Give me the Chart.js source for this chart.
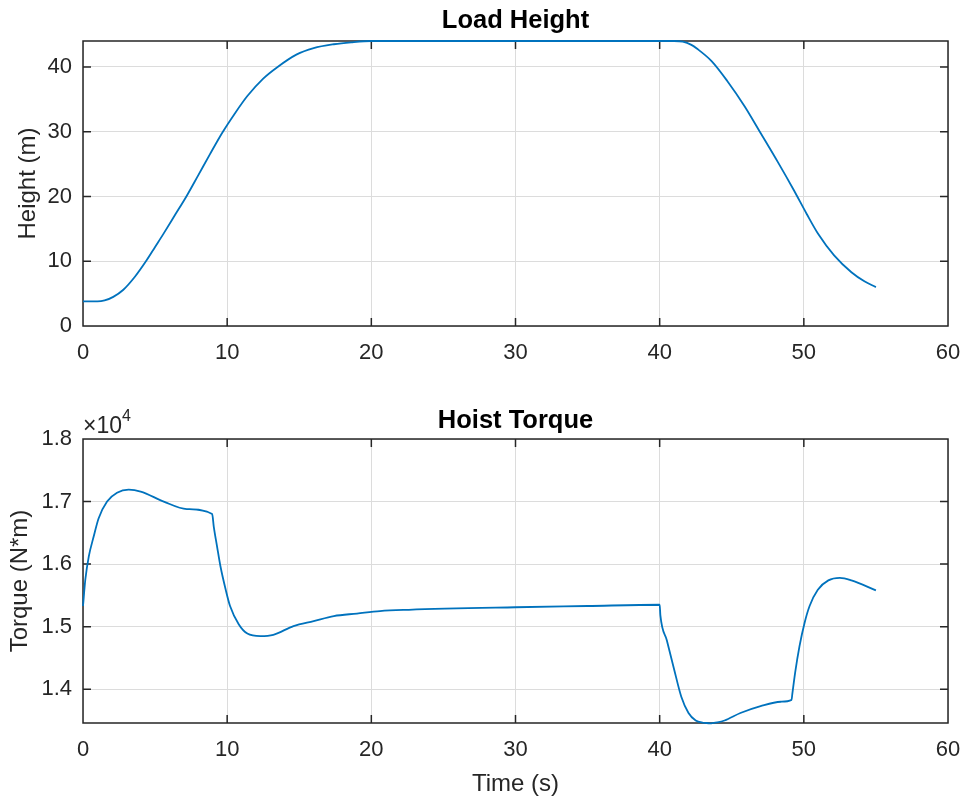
<!DOCTYPE html>
<html>
<head>
<meta charset="utf-8">
<script src="https://cdn.jsdelivr.net/npm/chart.js@4.4.1/dist/chart.umd.min.js"></script>
<style>
  html, body { margin: 0; padding: 0; background: #fff; }
  canvas { display: block; }
</style>
</head>
<body>
<canvas id="heightChart" width="968" height="402"></canvas>
<canvas id="torqueChart" width="968" height="402"></canvas>
<script>
// load height (m) against time (s)
const heightTime = [0, 1, 1.5, 2.1, 2.8, 3.6, 4.4, 5, 5.6, 6.4, 7.17, 8, 8.8, 9.65, 10.5, 11.4, 12.5, 13.5, 14.8, 16, 17.4,
  18.6, 20, 25, 30, 35, 40, 41, 41.6, 42.2, 42.6, 43.6, 44.7, 45.9, 47, 48.2, 49.3, 50.2, 51, 52.1, 53.3, 54.2, 55];
const heightVal = [3.8, 3.8, 3.95, 4.5, 5.6, 7.6, 10.1, 12.2, 14.3, 17.2, 20.0, 23.3, 26.5, 29.8, 32.7, 35.5, 38.2, 40.0, 41.9,
  42.9, 43.5, 43.8, 44, 44, 44, 44, 44, 44, 43.9, 43.4, 42.8, 40.9, 37.8, 33.9, 29.8, 25.3, 21.0, 17.3, 14.2, 10.9, 8.3, 6.9, 6.0];

// hoist torque (N*m) against time (s)
const torqueTime = [0, 0.16, 0.4, 0.74, 1.08, 1.67, 2.36, 3.17, 4.0, 5.6, 7.2, 8.96, 9.07, 9.3, 9.53, 9.9, 10.2, 10.8, 11.4,
  12.3, 13.2, 14.6, 16, 17.4, 19, 20.6, 22.6, 30, 35, 40, 40.05, 40.5, 41.0, 41.5, 42.0, 42.5, 43.0, 43.5, 44.0, 44.5, 45.6,
  47, 48.4, 49.15, 49.2, 49.4, 49.7, 50.05, 50.4, 50.97, 51.7, 52.5, 53.3, 55];
const torqueVal = [15330, 15750, 16120, 16440, 16730, 17000, 17140, 17190, 17160, 17000, 16880, 16800, 16600, 16280, 15970,
  15590, 15330, 15040, 14890, 14850, 14870, 15010, 15090, 15170, 15210, 15250, 15270, 15310, 15330, 15350, 15180, 14780,
  14320, 13880, 13620, 13500, 13465, 13455, 13470, 13500, 13620, 13730, 13800, 13830, 13920, 14270, 14690, 15060, 15330,
  15590, 15740, 15780, 15740, 15580];

const xTicks = [0, 10, 20, 30, 40, 50, 60];

const FONT = "'Liberation Sans', Arial, Helvetica, sans-serif";
const TXT = '#262626';
const BLUE = '#0072BD';

// MATLAB style box with inward ticks on all four sides
const boxTicks = {
  id: 'boxTicks',
  beforeDatasetsDraw(chart) {
    const { ctx, chartArea: a, scales: { x, y } } = chart;
    const len = 8;
    ctx.save();
    ctx.strokeStyle = TXT;
    ctx.lineWidth = 1.5;
    ctx.beginPath();
    x.ticks.forEach(t => {
      const px = x.getPixelForValue(t.value);
      ctx.moveTo(px, a.bottom); ctx.lineTo(px, a.bottom - len);
      ctx.moveTo(px, a.top); ctx.lineTo(px, a.top + len);
    });
    y.ticks.forEach(t => {
      const py = y.getPixelForValue(t.value);
      ctx.moveTo(a.left, py); ctx.lineTo(a.left + len, py);
      ctx.moveTo(a.right, py); ctx.lineTo(a.right - len, py);
    });
    ctx.rect(a.left, a.top, a.right - a.left, a.bottom - a.top);
    ctx.stroke();
    ctx.restore();
  }
};

// the x10^4 exponent above the torque axis
const exponent = {
  id: 'exponent',
  afterDraw(chart, args, opts) {
    if (!opts.show) return;
    const { ctx, chartArea: a } = chart;
    ctx.save();
    ctx.fillStyle = TXT;
    ctx.textBaseline = 'alphabetic';
    ctx.font = '23px ' + FONT;
    ctx.fillText('\u00d710', a.left, a.top - 6);
    const w = ctx.measureText('\u00d710').width;
    ctx.font = '16px ' + FONT;
    ctx.fillText('4', a.left + w, a.top - 18);
    ctx.restore();
  }
};

function makeChart(id, cfg) {
  const xs = cfg.time;
  return new Chart(document.getElementById(id), {
    type: 'line',
    data: {
      datasets: [{
        data: xs.map((t, i) => ({ x: t, y: cfg.values[i] })),
        borderColor: BLUE,
        borderWidth: 1.8,
        pointRadius: 0,
        cubicInterpolationMode: 'monotone',
        clip: false
      }]
    },
    options: {
      responsive: false,
      animation: false,
      events: [],
      layout: { padding: { left: 0, right: 20, top: 0, bottom: 0 } },
      plugins: {
        legend: { display: false },
        tooltip: { enabled: false },
        title: {
          display: true,
          text: cfg.title,
          fullSize: false,
          color: '#000',
          font: { family: FONT, size: 25.5, weight: 'bold', lineHeight: 1.2 },
          padding: cfg.titlePad
        },
        exponent: { show: !!cfg.exponent }
      },
      scales: {
        x: {
          type: 'linear',
          min: 0,
          max: 60,
          afterBuildTicks: s => { s.ticks = xTicks.map(v => ({ value: v })); },
          afterFit: s => { s.height = cfg.xHeight; s.paddingLeft = 0; s.paddingRight = 0; },
          border: { display: false },
          grid: { color: '#dcdcdc', lineWidth: 1, drawTicks: false },
          ticks: { color: TXT, font: { family: FONT, size: 22 }, padding: 14, maxRotation: 0 },
          title: {
            display: !!cfg.xTitle,
            text: cfg.xTitle || '',
            color: TXT,
            font: { family: FONT, size: 24, lineHeight: 1.2 },
            padding: { top: 0, bottom: 5.6 }
          }
        },
        y: {
          min: cfg.yMin,
          max: cfg.yMax,
          afterBuildTicks: s => { s.ticks = cfg.yTicks.map(v => ({ value: v })); },
          afterFit: s => { s.width = 83; },
          border: { display: false },
          grid: { color: '#dcdcdc', lineWidth: 1, drawTicks: false },
          ticks: {
            color: TXT,
            font: { family: FONT, size: 22 },
            padding: 11,
            callback: cfg.yFormat
          },
          title: {
            display: true,
            text: cfg.yTitle,
            color: TXT,
            font: { family: FONT, size: 24, lineHeight: 1.2 },
            padding: { top: cfg.yTitlePad, bottom: 0 }
          }
        }
      }
    },
    plugins: [boxTicks, exponent]
  });
}

makeChart('heightChart', {
  time: heightTime,
  values: heightVal,
  title: 'Load Height',
  titlePad: { top: 5.8, bottom: 4.6 },
  xHeight: 76,
  yMin: 0,
  yMax: 44,
  yTicks: [0, 10, 20, 30, 40],
  yFormat: v => String(v),
  yTitle: 'Height (m)',
  yTitlePad: 13.6
});

makeChart('torqueChart', {
  time: torqueTime,
  values: torqueVal,
  title: 'Hoist Torque',
  titlePad: { top: 3.2, bottom: 3.2 },
  xHeight: 81,
  xTitle: 'Time (s)',
  yMin: 13460,
  yMax: 18000,
  yTicks: [14000, 15000, 16000, 17000, 18000],
  yFormat: v => (v / 1e4).toFixed(1),
  yTitle: 'Torque (N*m)',
  yTitlePad: 5.6,
  exponent: true
});
</script>
</body>
</html>
